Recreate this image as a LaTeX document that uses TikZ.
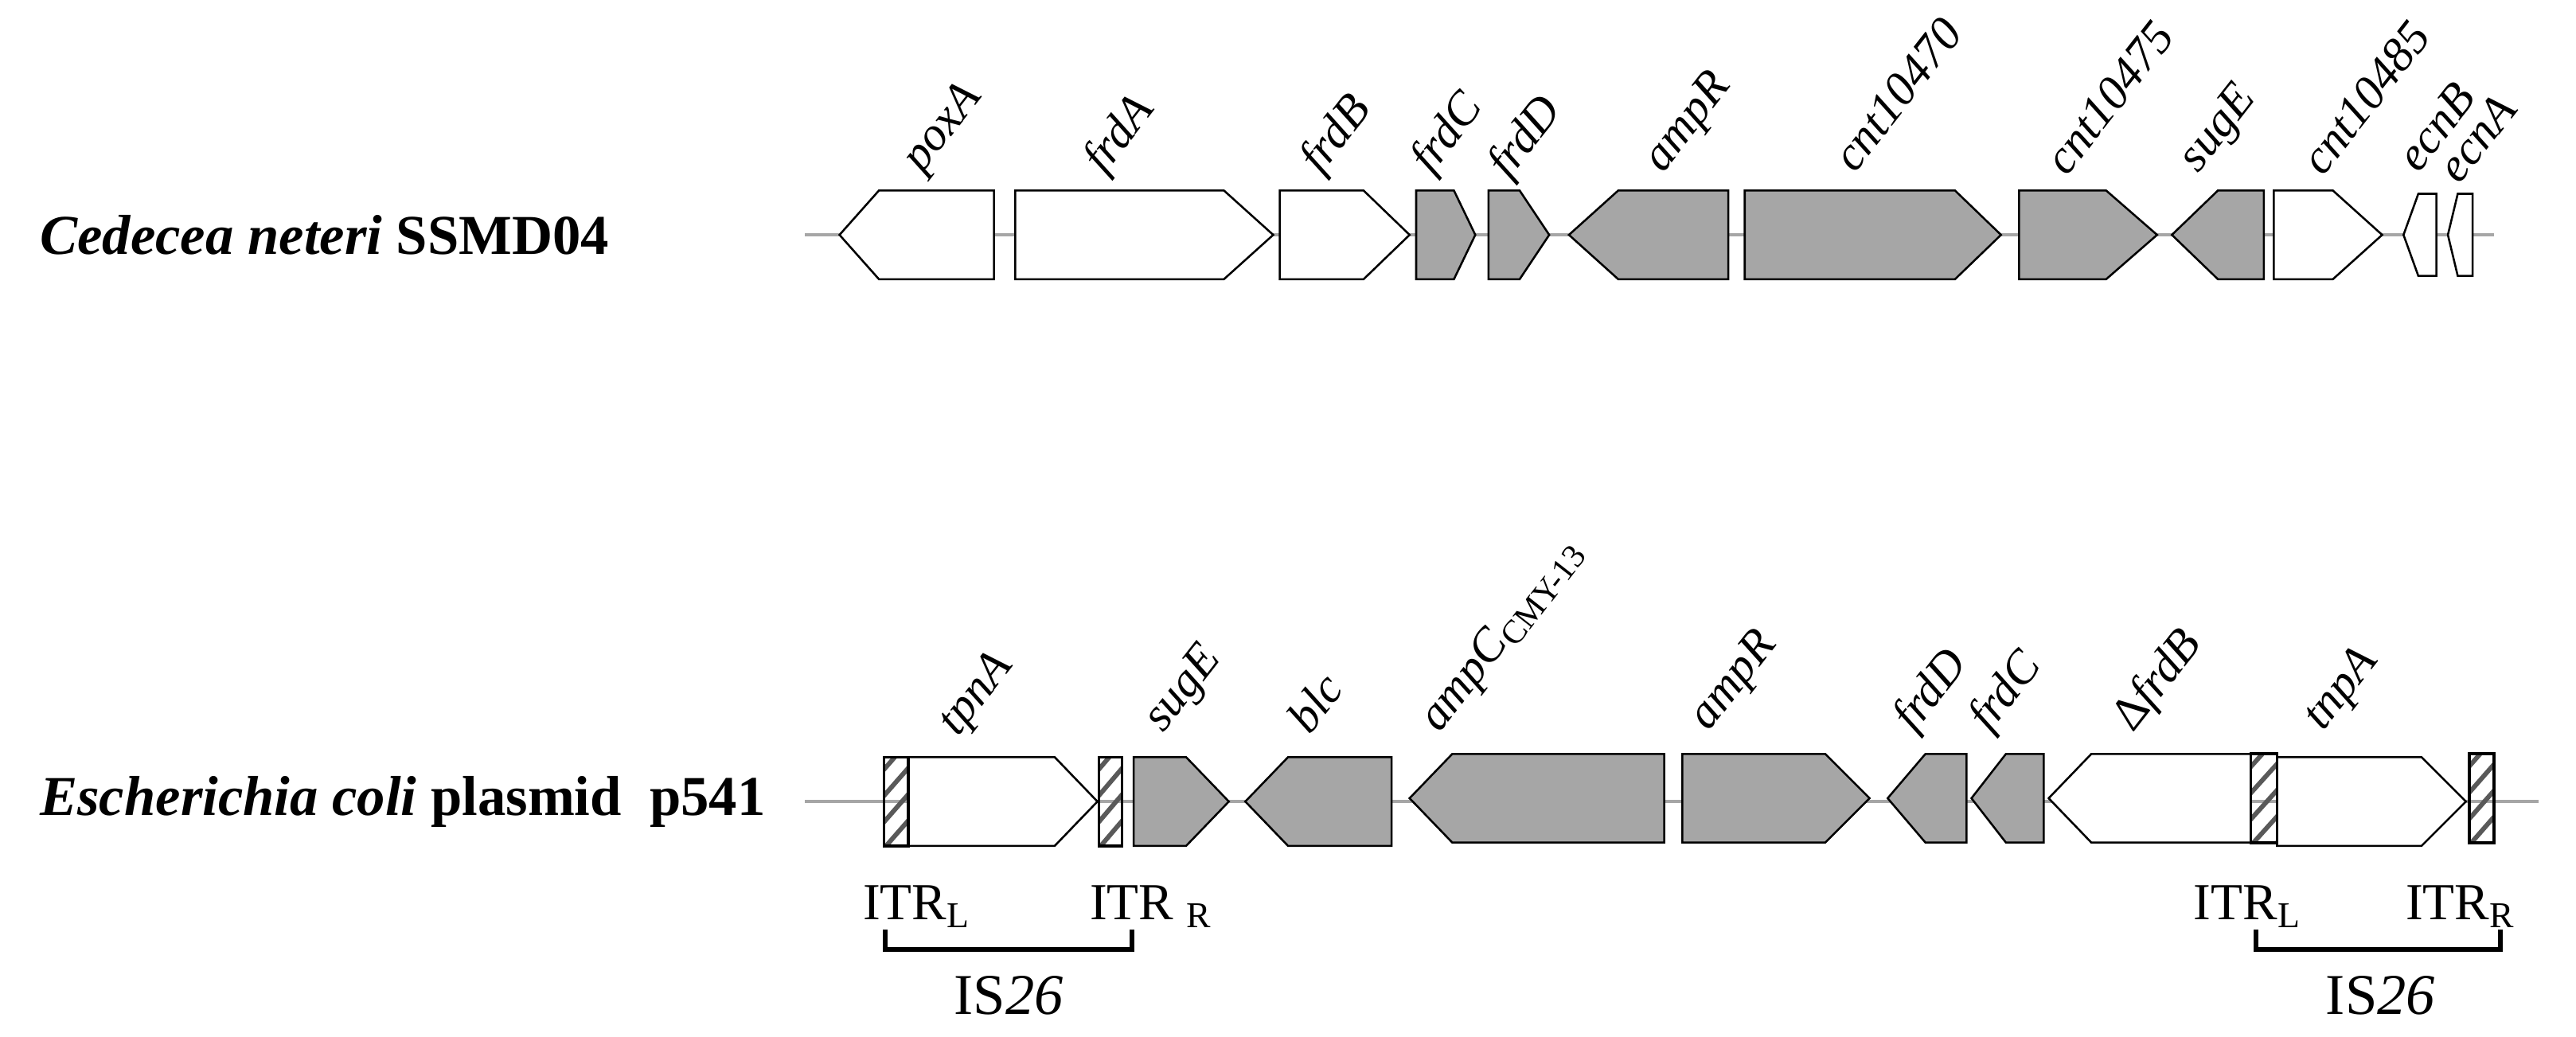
\documentclass[tikz,border=0pt]{standalone}
\usepackage{fontspec}
\setmainfont{Liberation Serif}
\begin{document}
\begin{tikzpicture}[x=0.02cm,y=-0.02cm,
  bb/.style={line width=0.7pt},
  wf/.style={bb,fill=white},
  gf/.style={bb,fill=gray!70},
  axis/.style={draw=gray!70,line width=0.9pt},
  glab/.style={rotate=52,anchor=base west,font=\fontsize{16.5}{18}\selectfont\itshape,inner sep=0pt},
  title/.style={anchor=west,font=\fontsize{19.5}{22}\selectfont\bfseries,inner sep=0pt},
  itr/.style={anchor=base west,font=\fontsize{18}{20}\selectfont,inner sep=0pt},
  brk/.style={line width=1.6pt}]
\useasboundingbox (0,0) rectangle (1568,631);
\newcommand\rgene[5]{\draw[#5] (#1,#4-27) -- (#2,#4-27) -- (#3,#4) -- (#2,#4+27) -- (#1,#4+27) -- cycle;}
\newcommand\lgene[5]{\draw[#5] (#1,#4) -- (#2,#4-27) -- (#3,#4-27) -- (#3,#4+27) -- (#2,#4+27) -- cycle;}
\newcommand\hatchbox[3]{%
  \begin{scope}
  \clip (#1,#3-27) rectangle (#2,#3+27);
  \foreach \k in {-60,-44,...,60} {\draw[gray!70!black,line width=1.6pt] (#1-10,#3+\k+20) -- (#2+10,#3+\k-20);}
  \end{scope}
  \draw[line width=1pt] (#1,#3-27) rectangle (#2,#3+27);}
% ---------- top row
\coordinate (t0) at (490,143); \coordinate (t1) at (1518,143);
\draw[axis] (t0) -- (t1);
\node[title] (tt) at (24,143) {\textit{Cedecea neteri} SSMD04};
\lgene{511}{535}{605}{143}{wf}
\rgene{618}{745}{775}{143}{wf}
\rgene{779}{830}{858}{143}{wf}
\rgene{862}{885}{898}{143}{gf}
\rgene{906}{925}{943}{143}{gf}
\lgene{955}{985}{1052}{143}{gf}
\rgene{1062}{1190}{1218}{143}{gf}
\rgene{1229}{1282}{1313}{143}{gf}
\lgene{1322}{1350}{1378}{143}{gf}
\rgene{1384}{1420}{1450}{143}{wf}
\draw[wf] (1463,143) -- (1472,118) -- (1483,118) -- (1483,168) -- (1472,168) -- cycle;
\draw[wf] (1490,143) -- (1496,118) -- (1505,118) -- (1505,168) -- (1496,168) -- cycle;
\node[glab] (g1) at (561,106) {poxA};
\node[glab] (g2) at (672,107) {frdA};
\node[glab] (g3) at (804,107) {frdB};
\node[glab] (g4) at (871,107) {frdC};
\node[glab] (g5) at (918,110) {frdD};
\node[glab] (g6) at (1012,106) {ampR};
\node[glab] (g7) at (1129,106) {cnt10470};
\node[glab] (g8) at (1258,108) {cnt10475};
\node[glab] (g9) at (1338,106) {sugE};
\node[glab] (g10) at (1414,108) {cnt10485};
\node[glab] (g11) at (1472,106) {ecnB};
\node[glab] (g12) at (1497,113) {ecnA};
% ---------- bottom row
\coordinate (b0) at (490,488); \coordinate (b1) at (1545,488);
\draw[axis] (b0) -- (b1);
\node[title] (bt) at (24,488) {\textit{Escherichia coli} plasmid\ \ p541};
\rgene{553}{642}{668}{488}{wf}
\hatchbox{538}{553}{488}
\hatchbox{669}{683}{488}
\rgene{690}{722}{748}{488}{gf}
\lgene{758}{784}{847}{488}{gf}
\lgene{858}{884}{1013}{486}{gf}
\rgene{1024}{1111}{1138}{486}{gf}
\lgene{1149}{1172}{1197}{486}{gf}
\lgene{1200}{1221}{1244}{486}{gf}
\lgene{1247}{1273}{1370}{486}{wf}
\rgene{1386}{1474}{1501}{488}{wf}
\hatchbox{1370}{1386}{486}
\hatchbox{1503}{1518}{486}
\node[glab] (h1) at (583,449) {tpnA};
\node[glab] (h2) at (708,447) {sugE};
\node[glab] (h3) at (797,448) {blc};
\node[glab] (h4) at (876,447) {ampC\textup{\textsubscript{CMY-13}}};
\node[glab] (h5) at (1040,446) {ampR};
\node[glab] (h6) at (1165,447) {frdD};
\node[glab] (h7) at (1211,447) {frdC};
\node[glab] (h8) at (1298,447) {\textup{Δ}frdB};
\node[glab] (h9) at (1414,446) {tnpA};
% ITR labels and brackets
\node[itr] (i1) at (525,560) {ITR\textsubscript{L}};
\node[itr] (i2) at (663,560) {ITR\ \textsubscript{R}};
\node[itr] (i3) at (1335,560) {ITR\textsubscript{L}};
\node[itr] (i4) at (1464,560) {ITR\textsubscript{R}};
\coordinate (k1a) at (539,566); \coordinate (k1b) at (689,566);
\draw[brk] (k1a) -- ++(0,12) -| (k1b);
\coordinate (k2a) at (1373,566); \coordinate (k2b) at (1522,566);
\draw[brk] (k2a) -- ++(0,12) -| (k2b);
\node[font=\fontsize{20}{22}\selectfont] (s1) at (614,606) {IS\textit{26}};
\node[font=\fontsize{20}{22}\selectfont] (s2) at (1449,606) {IS\textit{26}};
\end{tikzpicture}
\end{document}
